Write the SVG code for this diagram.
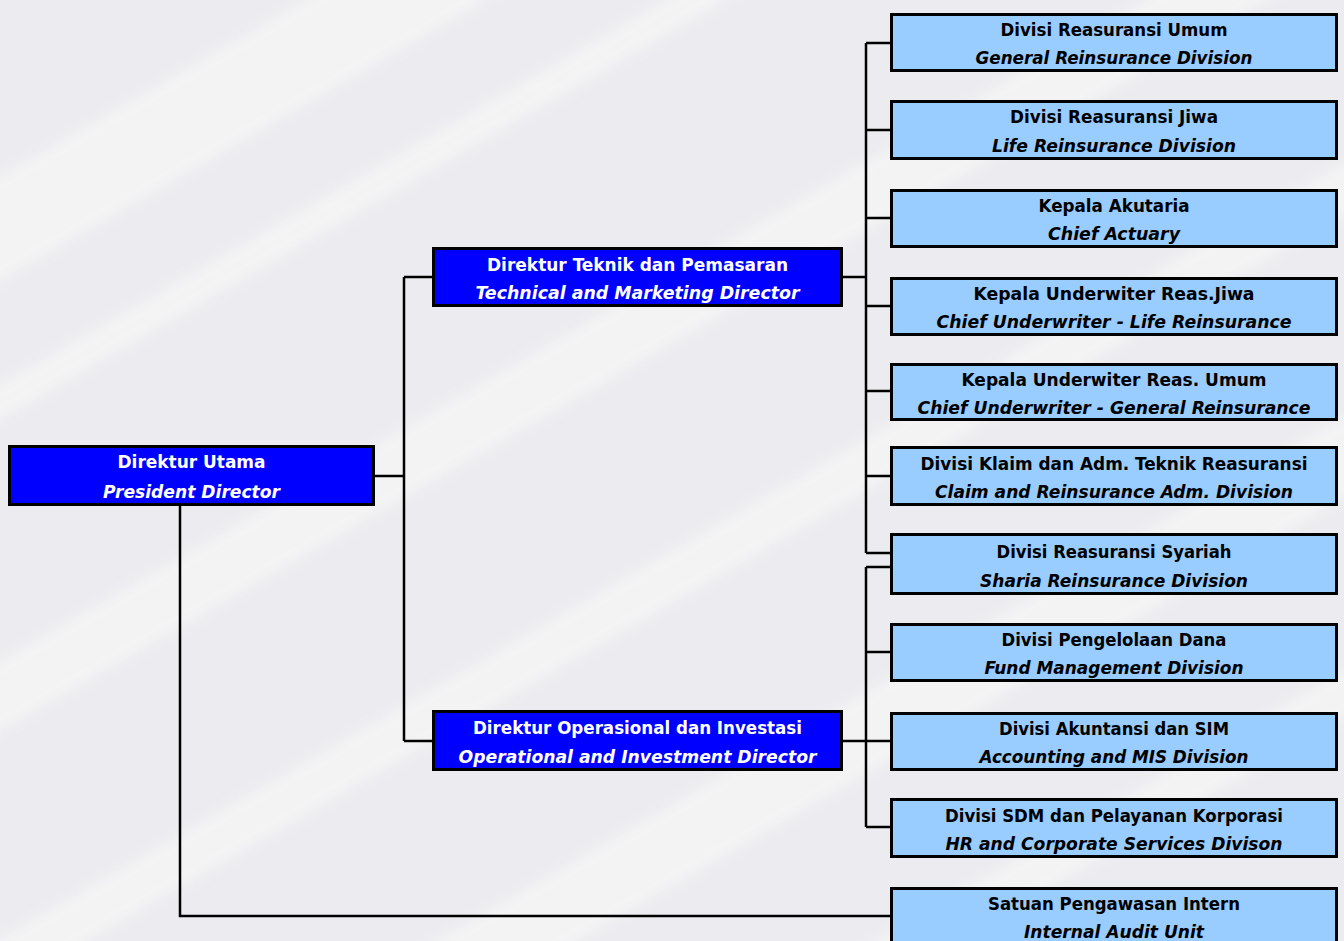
<svg xmlns="http://www.w3.org/2000/svg" width="1344" height="941" viewBox="0 0 1344 941">
<defs>
<style>
.bg{fill:#ECECF0}
.stripe{fill:#F5F5F5}
.lb rect{fill:#99CCFF;stroke:#000;stroke-width:3}
.db rect{fill:#0000FF;stroke:#000;stroke-width:3}
text{font-family:"DejaVu Sans Condensed","DejaVu Sans","Liberation Sans",sans-serif;font-stretch:condensed;font-size:18px;font-weight:bold;text-anchor:middle}
.lb text{fill:#000}
.db text{fill:#FFF}
.it{font-style:italic}
.conn path{fill:none;stroke:#000;stroke-width:2.5}
</style>
<filter id="blur" x="-10%" y="-10%" width="120%" height="120%"><feGaussianBlur stdDeviation="6"/></filter>
</defs>
<rect class="bg" x="0" y="0" width="1344" height="941"/>
<g filter="url(#blur)" opacity="0.85">
<rect class="stripe" x="-600" y="300" width="2600" height="60" transform="rotate(-30 672 470)"/>
<rect class="stripe" x="-600" y="60" width="2600" height="30" transform="rotate(-30 672 470)"/>
<rect class="stripe" x="-600" y="-120" width="2600" height="90" transform="rotate(-30 672 470)"/>
<rect class="stripe" x="-600" y="540" width="2600" height="45" transform="rotate(-30 672 470)"/>
<rect class="stripe" x="-600" y="760" width="2600" height="70" transform="rotate(-30 672 470)"/>
<rect class="stripe" x="-600" y="980" width="2600" height="40" transform="rotate(-30 672 470)"/>
</g>
<g id="connectors" class="conn">
<path d="M375,476 H404 M404,277 V741 M404,277 H432 M404,741 H432"/>
<path d="M843,277 H866 M866,43 V553 M866,43 H890 M866,130 H890 M866,218 H890 M866,306 H890 M866,391 H890 M866,476 H890 M866,553 H890"/>
<path d="M843,741 H866 M866,567 V827 M866,567 H890 M866,652 H890 M866,741 H890 M866,827 H890"/>
<path d="M180,506 V916 H890"/>
</g>
<g id="president" class="db">
<rect x="9.5" y="446.5" width="364" height="58"/>
<text x="191.5" y="467.5" textLength="148" lengthAdjust="spacingAndGlyphs">Direktur Utama</text>
<text class="it" x="191.5" y="497.5" textLength="177" lengthAdjust="spacingAndGlyphs">President Director</text>
</g>
<g id="tech-director" class="db">
<rect x="433.5" y="248.5" width="408" height="57"/>
<text x="637.5" y="270.5" textLength="301" lengthAdjust="spacingAndGlyphs">Direktur Teknik dan Pemasaran</text>
<text class="it" x="637.5" y="298.5" textLength="324" lengthAdjust="spacingAndGlyphs">Technical and Marketing Director</text>
</g>
<g id="ops-director" class="db">
<rect x="433.5" y="711.5" width="408" height="58"/>
<text x="637.5" y="733.5" textLength="329" lengthAdjust="spacingAndGlyphs">Direktur Operasional dan Investasi</text>
<text class="it" x="637.5" y="762.5" textLength="358" lengthAdjust="spacingAndGlyphs">Operational and Investment Director</text>
</g>
<g id="general-reinsurance" class="lb">
<rect x="891.5" y="14.5" width="445" height="56"/>
<text x="1114" y="36" textLength="227" lengthAdjust="spacingAndGlyphs">Divisi Reasuransi Umum</text>
<text class="it" x="1114" y="64" textLength="277" lengthAdjust="spacingAndGlyphs">General Reinsurance Division</text>
</g>
<g id="life-reinsurance" class="lb">
<rect x="891.5" y="101.5" width="445" height="57"/>
<text x="1114" y="123" textLength="208" lengthAdjust="spacingAndGlyphs">Divisi Reasuransi Jiwa</text>
<text class="it" x="1114" y="151.5" textLength="244" lengthAdjust="spacingAndGlyphs">Life Reinsurance Division</text>
</g>
<g id="chief-actuary" class="lb">
<rect x="891.5" y="190.5" width="445" height="56"/>
<text x="1114" y="212" textLength="151" lengthAdjust="spacingAndGlyphs">Kepala Akutaria</text>
<text class="it" x="1114" y="240" textLength="132" lengthAdjust="spacingAndGlyphs">Chief Actuary</text>
</g>
<g id="underwriter-life" class="lb">
<rect x="891.5" y="278.5" width="445" height="56"/>
<text x="1114" y="300" textLength="281" lengthAdjust="spacingAndGlyphs">Kepala Underwiter Reas.Jiwa</text>
<text class="it" x="1114" y="328" textLength="355" lengthAdjust="spacingAndGlyphs">Chief Underwriter - Life Reinsurance</text>
</g>
<g id="underwriter-general" class="lb">
<rect x="891.5" y="364.5" width="445" height="55"/>
<text x="1114" y="385.5" textLength="305" lengthAdjust="spacingAndGlyphs">Kepala Underwiter Reas. Umum</text>
<text class="it" x="1114" y="413.5" textLength="393" lengthAdjust="spacingAndGlyphs">Chief Underwriter - General Reinsurance</text>
</g>
<g id="claim-division" class="lb">
<rect x="891.5" y="447.5" width="445" height="57"/>
<text x="1114" y="469.5" textLength="387" lengthAdjust="spacingAndGlyphs">Divisi Klaim dan Adm. Teknik Reasuransi</text>
<text class="it" x="1114" y="497.5" textLength="358" lengthAdjust="spacingAndGlyphs">Claim and Reinsurance Adm. Division</text>
</g>
<g id="sharia-division" class="lb">
<rect x="891.5" y="534.5" width="445" height="59"/>
<text x="1114" y="557.5" textLength="235" lengthAdjust="spacingAndGlyphs">Divisi Reasuransi Syariah</text>
<text class="it" x="1114" y="586.5" textLength="268" lengthAdjust="spacingAndGlyphs">Sharia Reinsurance Division</text>
</g>
<g id="fund-division" class="lb">
<rect x="891.5" y="624.5" width="445" height="56"/>
<text x="1114" y="646" textLength="225" lengthAdjust="spacingAndGlyphs">Divisi Pengelolaan Dana</text>
<text class="it" x="1114" y="674" textLength="259" lengthAdjust="spacingAndGlyphs">Fund Management Division</text>
</g>
<g id="accounting-division" class="lb">
<rect x="891.5" y="713.5" width="445" height="56"/>
<text x="1114" y="735" textLength="230" lengthAdjust="spacingAndGlyphs">Divisi Akuntansi dan SIM</text>
<text class="it" x="1114" y="763" textLength="269" lengthAdjust="spacingAndGlyphs">Accounting and MIS Division</text>
</g>
<g id="hr-division" class="lb">
<rect x="891.5" y="799.5" width="445" height="57"/>
<text x="1114" y="821.5" textLength="338" lengthAdjust="spacingAndGlyphs">Divisi SDM dan Pelayanan Korporasi</text>
<text class="it" x="1114" y="849.5" textLength="337" lengthAdjust="spacingAndGlyphs">HR and Corporate Services Divison</text>
</g>
<g id="internal-audit" class="lb">
<rect x="891.5" y="888.5" width="445" height="57"/>
<text x="1114" y="910" textLength="252" lengthAdjust="spacingAndGlyphs">Satuan Pengawasan Intern</text>
<text class="it" x="1114" y="938" textLength="180" lengthAdjust="spacingAndGlyphs">Internal Audit Unit</text>
</g>
</svg>
